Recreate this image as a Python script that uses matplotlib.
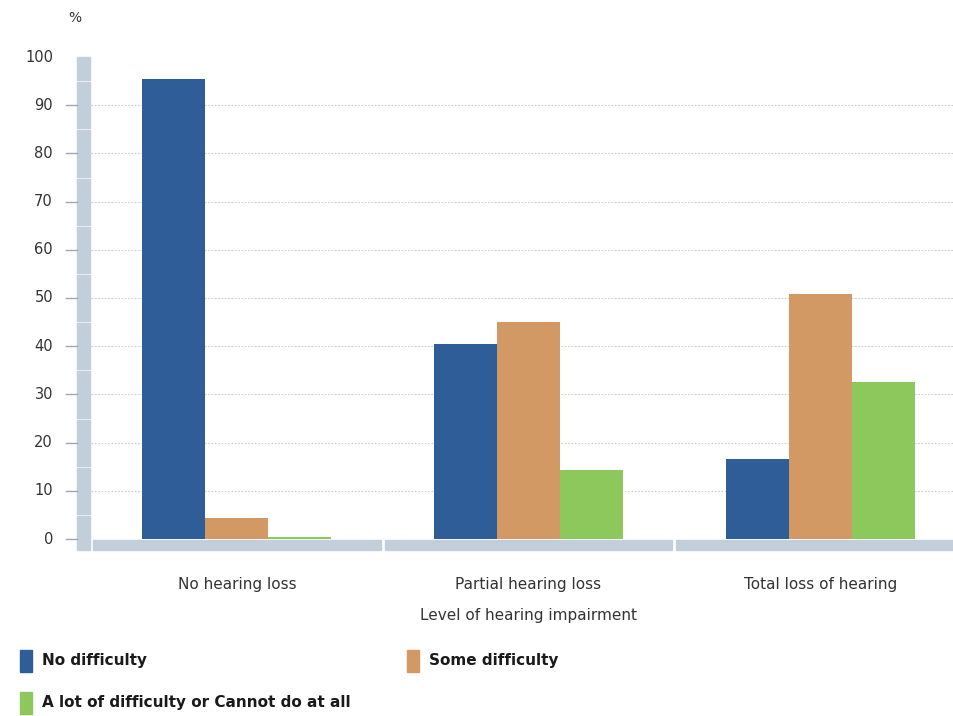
import numpy as np
import matplotlib.pyplot as plt
from matplotlib.patches import Rectangle

categories = ['No hearing loss', 'Partial hearing loss', 'Total loss of hearing']
series_names = ['No difficulty', 'Some difficulty', 'A lot of difficulty or Cannot do at all']
no_difficulty = [95.4, 40.5, 16.6]
some_difficulty = [4.4, 45.0, 50.8]
lot_of_difficulty = [0.4, 14.3, 32.6]
yticks = [0, 10, 20, 30, 40, 50, 60, 70, 80, 90, 100]

colors = ['#2e5d98', '#d29964', '#8cc85c']
axis_col = '#c3cedb'
text_col = '#333333'

fig = plt.figure(figsize=(9.54, 7.16), dpi=100)
W, H = 954, 716
# axes box in pixels: x -0.5..2.5 -> 91..966, y 0..100 -> 539..57
ax = fig.add_axes([91 / W, 1 - 539 / H, 875 / W, 482 / H])
ax.set_xlim(-0.5, 2.5)
ax.set_ylim(0, 100)

x = np.arange(len(categories))
width = 0.216
for i, vals in enumerate([no_difficulty, some_difficulty, lot_of_difficulty]):
    ax.bar(x + (i - 1) * width, vals, width, color=colors[i], zorder=3,
           linewidth=0)

# dotted gridlines
for t in yticks[1:-1]:
    ax.axhline(t, color='#cccccc', linestyle=(0, (1.5, 1.5)), linewidth=0.8, zorder=1)

for s in ax.spines.values():
    s.set_visible(False)
ax.set_xticks([])
ax.set_yticks([])

px = 3.0 / 875      # data units per pixel in x
py = 100 / 482      # data units per pixel in y
ax_px = 1 / 875     # axes fraction per pixel

# y axis: thick bar split into blocks centred on each tick
trans_y = ax.get_yaxis_transform()
for t in yticks:
    lo = max(t - 5, 0) + (py if t > 0 else 0)
    hi = min(t + 5, 100) - (py if t < 100 else 0)
    ax.add_patch(Rectangle((-14 * ax_px, lo), 13 * ax_px, hi - lo,
                           transform=trans_y, color=axis_col, clip_on=False, zorder=2))
ax.add_patch(Rectangle((-14 * ax_px, -11 * py), 13 * ax_px, 10 * py,
                       transform=trans_y, color=axis_col, clip_on=False, zorder=2))
for t in yticks[:-1]:
    ax.plot([-25 * ax_px, -14 * ax_px], [t, t], transform=trans_y, color='#9aa8b8',
            linewidth=1, clip_on=False)
for t in yticks:
    ax.text(-38 * ax_px, t, str(t), transform=trans_y, ha='right', va='center',
            fontsize=10.5, color=text_col)
ax.text(-16 * ax_px, 108, '%', transform=trans_y, ha='center', va='center',
        fontsize=10, color=text_col)

# x axis: thick bar below zero, broken between categories
bounds = [-0.5, 0.5, 1.5, 2.5]
for lo, hi in zip(bounds[:-1], bounds[1:]):
    s0 = lo + 2 * px
    e0 = hi - 2 * px
    ax.add_patch(Rectangle((s0, -11 * py), e0 - s0, 10 * py,
                           color=axis_col, clip_on=False, zorder=2))

for xi, name in zip(x, categories):
    ax.text(xi, -9.5, name, ha='center', va='center', fontsize=11, color=text_col)
ax.text(1.0, -15.8, 'Level of hearing impairment', ha='center', va='center',
        fontsize=11, color=text_col)

# legend
legend_pos = [(20, 661), (407, 661), (20, 703)]
for (lx, ly), name, c in zip(legend_pos, series_names, colors):
    fig.patches.append(Rectangle((lx / W, 1 - (ly + 11) / H), 12 / W, 22 / H,
                                 transform=fig.transFigure, color=c, figure=fig))
    fig.text((lx + 22) / W, 1 - ly / H, name, ha='left', va='center',
             fontsize=11, fontweight='bold', color='#1a1a1a')

fig.savefig('out.png', dpi=100)
